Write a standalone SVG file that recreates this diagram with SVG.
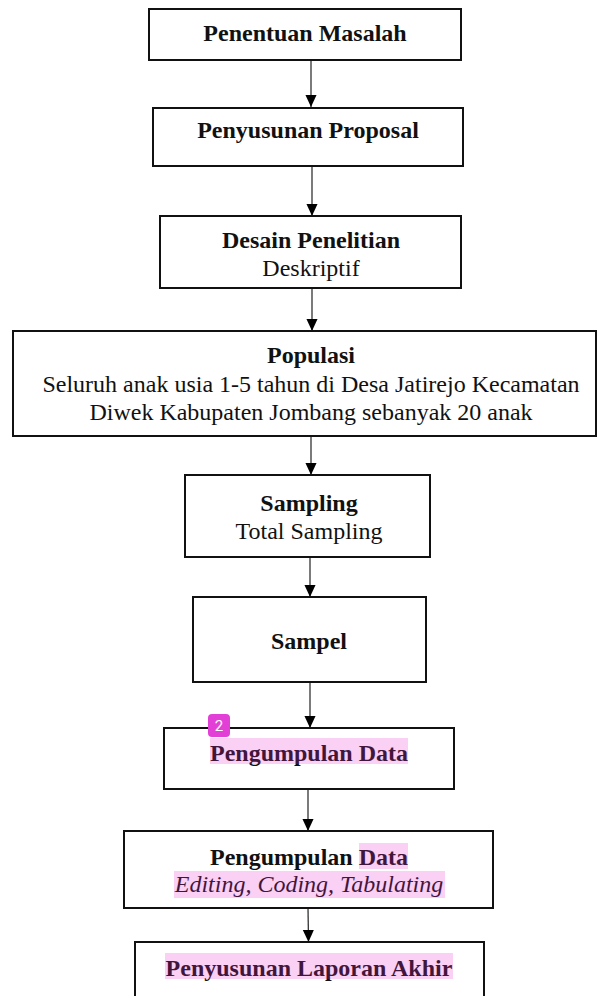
<svg xmlns="http://www.w3.org/2000/svg" width="597" height="996" viewBox="0 0 597 996">
<style>
.box{fill:#fff;stroke:#111;stroke-width:2}
.t{font-family:"Liberation Serif","Times New Roman",serif;font-size:24px;fill:#111;text-anchor:middle}
.b{font-weight:bold}
.i{font-style:italic}
.c{stroke:#222;stroke-width:1.2;fill:none}
.hl{fill:rgb(230,40,210);fill-opacity:0.22}
</style>
<defs>
<marker id="a" markerWidth="12" markerHeight="13" refX="13" refY="6" orient="auto" markerUnits="userSpaceOnUse" viewBox="0 0 13 12">
<path d="M0,0 L13,6 L0,12 Z" fill="#000"/>
</marker>
</defs>
<g id="connectors">
<line class="c" x1="311" y1="60" x2="311" y2="107" marker-end="url(#a)"/>
<line class="c" x1="312" y1="166" x2="312" y2="216" marker-end="url(#a)"/>
<line class="c" x1="312" y1="288" x2="312" y2="331" marker-end="url(#a)"/>
<line class="c" x1="311" y1="436" x2="311" y2="475" marker-end="url(#a)"/>
<line class="c" x1="310" y1="557" x2="310" y2="597" marker-end="url(#a)"/>
<line class="c" x1="310" y1="682" x2="310" y2="728" marker-end="url(#a)"/>
<line class="c" x1="308" y1="789" x2="308" y2="831" marker-end="url(#a)"/>
<line class="c" x1="308" y1="908" x2="308.5" y2="942" marker-end="url(#a)"/>
</g>
<g id="n1">
<rect class="box" x="149" y="9" width="312" height="51"/>
<text class="t b" x="305" y="41">Penentuan Masalah</text>
</g>
<g id="n2">
<rect class="box" x="153" y="108" width="310" height="58"/>
<text class="t b" x="308" y="138">Penyusunan Proposal</text>
</g>
<g id="n3">
<rect class="box" x="160" y="216" width="301" height="72"/>
<text class="t b" x="311" y="248">Desain Penelitian</text>
<text class="t" x="311" y="276">Deskriptif</text>
</g>
<g id="n4">
<rect class="box" x="13" y="331" width="583" height="105"/>
<text class="t b" x="311" y="363">Populasi</text>
<text class="t" x="311" y="392">Seluruh anak usia 1-5 tahun di Desa Jatirejo Kecamatan</text>
<text class="t" x="311" y="420">Diwek Kabupaten Jombang sebanyak 20 anak</text>
</g>
<g id="n5">
<rect class="box" x="185" y="475" width="245" height="82"/>
<text class="t b" x="309" y="511">Sampling</text>
<text class="t" x="309" y="539">Total Sampling</text>
</g>
<g id="n6">
<rect class="box" x="193" y="597" width="233" height="85"/>
<text class="t b" x="309" y="649">Sampel</text>
</g>
<g id="n7">
<rect class="box" x="164" y="728" width="290" height="61"/>
<text class="t b" x="309" y="761">Pengumpulan Data</text>
<rect class="hl" x="210" y="738" width="198" height="26"/>
<rect x="208" y="714" width="22" height="23" rx="4" fill="#e23fd6"/>
<text x="219" y="731" font-family="Roboto,'Noto Sans',sans-serif" font-size="15" fill="#fff" text-anchor="middle">2</text>
</g>
<g id="n8">
<rect class="box" x="124" y="831" width="369" height="77"/>
<text class="t b" x="309" y="865">Pengumpulan Data</text>
<text class="t i" x="309" y="892">Editing, Coding, Tabulating</text>
<rect class="hl" x="359" y="843" width="49" height="26"/>
<rect class="hl" x="174" y="871" width="271" height="27"/>
</g>
<g id="n9">
<rect class="box" x="135" y="942" width="349" height="60"/>
<text class="t b" x="309" y="976">Penyusunan Laporan Akhir</text>
<rect class="hl" x="165" y="953" width="288" height="26"/>
</g>
</svg>
